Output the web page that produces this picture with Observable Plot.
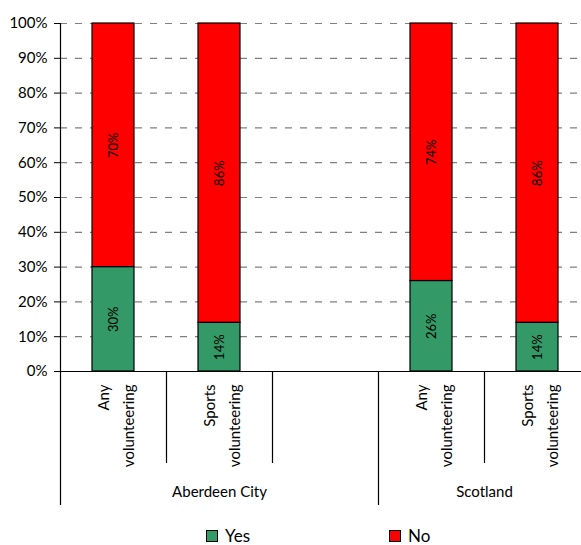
<!DOCTYPE html>
<html><head><meta charset="utf-8">
<script src="https://cdn.jsdelivr.net/npm/d3@7"></script>
<script src="https://cdn.jsdelivr.net/npm/@observablehq/plot@0.6"></script>
<style>
body{margin:0;background:#fff;font-family:Lato,"DejaVu Sans",sans-serif}
#legend{position:relative;height:18px;font-size:17px;line-height:18px;color:#000}
.item{position:absolute;top:0;height:18px;display:flex;align-items:center;white-space:nowrap}
.sw{width:10px;height:10px;border:1px solid #000;margin-right:7px}
</style></head><body><div id="chart"></div><div id="legend"></div>
<script>
const slots = ["Aberdeen City|Any volunteering", "Aberdeen City|Sports volunteering", "Aberdeen City|", "Scotland|Any volunteering", "Scotland|Sports volunteering"];
const slotGroups = ["Aberdeen City", "Aberdeen City", "Aberdeen City", "Scotland", "Scotland"];
const slotLabels = ["Any\nvolunteering", "Sports\nvolunteering", "", "Any\nvolunteering", "Sports\nvolunteering"];
const groups = ["Aberdeen City", "Scotland"];
const answers = ["Yes", "No"];
const yesValues = [30, 14, null, 26, 14];
const noValues = [70, 86, null, 74, 86];
const yTicks = [0, 10, 20, 30, 40, 50, 60, 70, 80, 90, 100];
const colors = ["#339966", "#ff0000"];

const table = [];
slots.forEach((s, i) => {
  if (yesValues[i] != null) table.push({slot: s, answer: "Yes", value: yesValues[i]});
  if (noValues[i] != null) table.push({slot: s, answer: "No", value: noValues[i]});
});
const dividers = slots.map((s, i) => ({slot: s, long: i === 0 || slotGroups[i] !== slotGroups[i - 1]}));
const labelData = slots.map((s, i) => ({slot: s, label: slotLabels[i]}));

const W = 581, H = 527, plotLeft = 60, plotRight = 590, plotTop = 23, plotBottom = 371;
const step = (plotRight - plotLeft) / slots.length;

const groupMarks = groups.map(g => {
  const idx = slots.map((s, i) => i).filter(i => slotGroups[i] === g);
  const n = idx.length;
  const anchor = slots[idx[Math.floor((n - 1) / 2)]];
  return Plot.text([g], {x: () => anchor, text: d => d, frameAnchor: "bottom", dy: 125, dx: n % 2 === 0 ? step / 2 : 0, fontSize: 15, fill: "#000"});
});

const chart = Plot.plot({
  width: W, height: H,
  marginLeft: plotLeft, marginTop: plotTop, marginBottom: H - plotBottom, marginRight: 0,
  style: {fontFamily: "Lato, 'DejaVu Sans', sans-serif", background: "#fff"},
  x: {domain: slots, range: [plotLeft, plotRight], paddingInner: 0.6, paddingOuter: 0.3, axis: null},
  y: {domain: [0, 100], axis: null, label: null},
  color: {domain: answers, range: colors},
  marks: [
    Plot.ruleY(yTicks.filter(d => d > 0), {stroke: "#808080", strokeWidth: 1.2, strokeDasharray: "7,8"}),
    Plot.barY(table, {x: "slot", y: "value", fill: "answer", stroke: "#000", strokeWidth: 1.2}),
    Plot.text(table, Plot.stackY({x: "slot", y: "value", text: d => d.value + "%", rotate: -90, fontSize: 13, fill: "#000"})),
    Plot.axisY({ticks: yTicks, tickFormat: d => d + "%", tickSize: 6, tickPadding: 7, fontSize: 15, color: "#000", anchor: "left", label: null}),
    Plot.ruleY([0], {stroke: "#000", strokeWidth: 1.2}),
    Plot.ruleX([slots[0]], {x: d => d, y1: () => 100, y2: () => 0, dx: -step / 2, stroke: "#000", strokeWidth: 1.2}),
    Plot.ruleX(dividers.filter(d => d.long), {x: "slot", y1: () => 0, y2: () => 0, insetBottom: -134, dx: -step / 2, stroke: "#000", strokeWidth: 1.2}),
    Plot.ruleX(dividers.filter(d => !d.long), {x: "slot", y1: () => 0, y2: () => 0, insetBottom: -92, dx: -step / 2, stroke: "#000", strokeWidth: 1.2}),
    Plot.text(labelData, {x: "slot", text: "label", frameAnchor: "bottom", dy: 13, rotate: -90, textAnchor: "end", lineAnchor: "middle", lineHeight: 1.65, fontSize: 15, fill: "#000"}),
    ...groupMarks
  ]
});
document.getElementById("chart").appendChild(chart);

const legend = document.getElementById("legend");
const legendLeft = [206, 389];
answers.forEach((a, i) => {
  const item = document.createElement("div");
  item.className = "item";
  item.style.left = legendLeft[i] + "px";
  item.innerHTML = `<span class="sw" style="background:${colors[i]}"></span><span>${a}</span>`;
  legend.appendChild(item);
});
</script></body></html>
